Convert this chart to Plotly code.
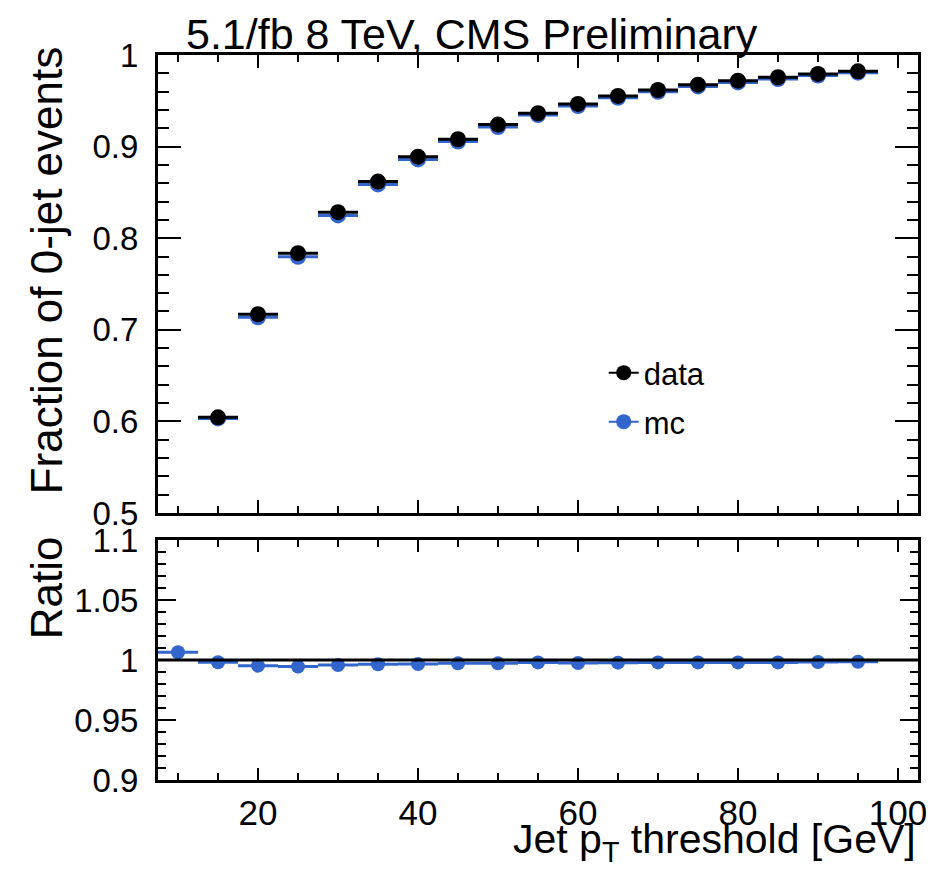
import plotly.graph_objects as go

# ---- data ----
pt = [15, 20, 25, 30, 35, 40, 45, 50, 55, 60, 65, 70, 75, 80, 85, 90, 95]
frac_data = [0.6044, 0.717, 0.7837, 0.8284, 0.8618, 0.889, 0.908, 0.924, 0.9364,
             0.9466, 0.9553, 0.9618, 0.9676, 0.972, 0.9757, 0.9793, 0.9822]
frac_mc = [0.6033, 0.7136, 0.7797, 0.8249, 0.8587, 0.886, 0.9055, 0.9214, 0.9345,
           0.9442, 0.9532, 0.9599, 0.9657, 0.9701, 0.9737, 0.9776, 0.9807]
pt_ratio = [10, 15, 20, 25, 30, 35, 40, 45, 50, 55, 60, 65, 70, 75, 80, 85, 90, 95]
ratio = [1.0064, 0.9981, 0.9953, 0.9945, 0.9958, 0.9964, 0.9966, 0.9972, 0.9972,
         0.998, 0.9975, 0.9978, 0.998, 0.998, 0.998, 0.998, 0.9983, 0.9985]
bin_half_width = 2.5

BLUE = "#3366CC"
FONT = "Liberation Sans, Arial, Helvetica, sans-serif"

fig = go.Figure()

# top panel
fig.add_trace(go.Scatter(
    x=pt, y=frac_mc, mode="markers", xaxis="x", yaxis="y",
    marker=dict(color=BLUE, size=16),
    error_x=dict(type="constant", value=bin_half_width, width=0, thickness=3, color=BLUE),
    showlegend=False, hoverinfo="x+y"))
fig.add_trace(go.Scatter(
    x=pt, y=frac_data, mode="markers", xaxis="x", yaxis="y",
    marker=dict(color="black", size=16),
    error_x=dict(type="constant", value=bin_half_width, width=0, thickness=3, color="black"),
    showlegend=False, hoverinfo="x+y"))

# legend-only entries
fig.add_trace(go.Scatter(x=[None], y=[None], mode="lines+markers", name="data",
                         line=dict(color="black", width=2), marker=dict(color="black", size=15),
                         xaxis="x", yaxis="y", legend="legend"))
fig.add_trace(go.Scatter(x=[None], y=[None], mode="lines+markers", name="mc",
                         line=dict(color=BLUE, width=2), marker=dict(color=BLUE, size=15),
                         xaxis="x", yaxis="y", legend="legend2"))

# ratio panel
fig.add_trace(go.Scatter(
    x=pt_ratio, y=ratio, mode="markers", xaxis="x2", yaxis="y2",
    marker=dict(color=BLUE, size=14),
    error_x=dict(type="constant", value=bin_half_width, width=0, thickness=3, color=BLUE),
    showlegend=False, hoverinfo="x+y"))

fig.add_shape(type="line", xref="x2 domain", yref="y2", x0=0, x1=1, y0=1, y1=1,
              line=dict(color="black", width=3))

L, R, T, B = 158, 9, 55, 94
H = 874 - T - B

def py(pix):
    return (874 - B - pix) / H

def px(pix):
    return (pix - L) / (936 - L - R)

common_x = dict(range=[7.5, 102.5], showline=True, linewidth=3, linecolor="black",
                mirror="allticks", ticks="inside", tickcolor="black", tickwidth=1.5,
                tick0=0, dtick=20, showgrid=False, zeroline=False,
                tickfont=dict(family=FONT, size=35, color="black"))

fig.update_layout(
    width=936, height=874,
    margin=dict(l=L, r=R, t=T, b=B),
    paper_bgcolor="white", plot_bgcolor="white",
    font=dict(family=FONT, color="black"),
    xaxis=dict(common_x, domain=[0, 1], anchor="y", showticklabels=False, ticklen=13,
               minor=dict(dtick=5, tick0=0, ticklen=7, ticks="inside", tickcolor="black", tickwidth=1.5)),
    xaxis2=dict(common_x, domain=[0, 1], anchor="y2", showticklabels=True, ticklen=12,
                ticklabelstandoff=0,
                minor=dict(dtick=5, tick0=0, ticklen=7, ticks="inside", tickcolor="black", tickwidth=1.5)),
    yaxis=dict(domain=[py(513), 1], anchor="x", range=[0.5, 1.0], showline=True, linewidth=3,
               linecolor="black", mirror="allticks", ticks="inside", ticklen=23, tickwidth=1.5,
               tickcolor="black", tick0=0.5, dtick=0.1, showgrid=False, zeroline=False,
               ticklabelstandoff=10,
               tickfont=dict(family=FONT, size=33, color="black"),
               minor=dict(dtick=0.02, tick0=0.5, ticklen=11, ticks="inside", tickcolor="black", tickwidth=1.5)),
    yaxis2=dict(domain=[0, py(540)], anchor="x2", range=[0.9, 1.1], showline=True, linewidth=3,
                linecolor="black", mirror="allticks", ticks="inside", ticklen=18, tickwidth=1.5,
                tickcolor="black", tick0=0.9, dtick=0.05, showgrid=False, zeroline=False,
                ticklabelstandoff=10,
                tickfont=dict(family=FONT, size=33, color="black"),
                minor=dict(dtick=0.01, tick0=0.9, ticklen=8, ticks="inside", tickcolor="black", tickwidth=1.5)),
    legend=dict(x=px(609), y=py(373), xanchor="left", yanchor="middle", bgcolor="rgba(0,0,0,0)",
                font=dict(family=FONT, size=31, color="black")),
    legend2=dict(x=px(609), y=py(422), xanchor="left", yanchor="middle", bgcolor="rgba(0,0,0,0)",
                 font=dict(family=FONT, size=31, color="black")),
)

fig.add_annotation(text="5.1/fb 8 TeV, CMS Preliminary", xref="paper", yref="paper",
                   x=px(184), y=py(8), xanchor="left", yanchor="top", showarrow=False,
                   font=dict(family=FONT, size=43, color="black"))
fig.add_annotation(text="Fraction of 0-jet events", xref="paper", yref="paper",
                   x=px(45), y=py(270), xanchor="center", yanchor="middle", textangle=-90,
                   showarrow=False, font=dict(family=FONT, size=44, color="black"))
fig.add_annotation(text="Ratio", xref="paper", yref="paper",
                   x=px(45), y=py(588), xanchor="center", yanchor="middle", textangle=-90,
                   showarrow=False, font=dict(family=FONT, size=44, color="black"))
fig.add_annotation(text="Jet p<sub>T</sub> threshold [GeV]", xref="paper", yref="paper",
                   x=1.0, y=py(870), xanchor="right", yanchor="bottom", showarrow=False,
                   font=dict(family=FONT, size=41, color="black"))

fig.write_html("out.html")
